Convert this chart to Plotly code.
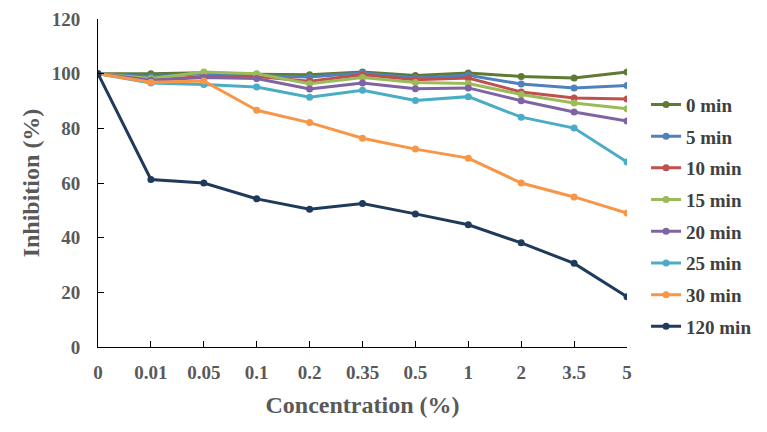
import plotly.graph_objects as go

concentrations = ["0", "0.01", "0.05", "0.1", "0.2", "0.35", "0.5", "1", "2", "3.5", "5"]

min0 = [100, 100, 100.3, 99.8, 99.6, 100.6, 99.3, 100.2, 99.0, 98.4, 100.6]
min5 = [100, 99.0, 100.0, 99.2, 98.8, 100.2, 98.4, 99.4, 96.2, 94.8, 95.7]
min10 = [100, 97.6, 99.0, 99.0, 97.2, 99.6, 97.8, 98.4, 93.3, 91.1, 90.7]
min15 = [100, 98.2, 100.6, 100.0, 96.3, 98.6, 96.8, 96.4, 92.4, 89.3, 87.2]
min20 = [100, 97.6, 98.6, 98.2, 94.4, 96.6, 94.5, 94.8, 90.1, 86.0, 82.7]
min25 = [100, 96.6, 96.0, 95.1, 91.4, 93.9, 90.2, 91.6, 84.1, 80.1, 67.7]
min30 = [100, 96.9, 97.3, 86.6, 82.1, 76.4, 72.4, 69.1, 60.0, 54.9, 49.0]
min120 = [100, 61.3, 60.0, 54.2, 50.4, 52.5, 48.7, 44.7, 38.1, 30.6, 18.4]

series_names = ["0 min", "5 min", "10 min", "15 min", "20 min", "25 min", "30 min", "120 min"]
series_values = [min0, min5, min10, min15, min20, min25, min30, min120]
colors = ["#5F7A33", "#4F81BD", "#C0504D", "#9BBB59", "#8064A2", "#4BACC6", "#F79646", "#203A5C"]

y_ticks = [0, 20, 40, 60, 80, 100, 120]

FONT = "Liberation Serif, Times New Roman, serif"

fig = go.Figure()
for name, vals, col in zip(series_names, series_values, colors):
    fig.add_trace(go.Scatter(
        x=concentrations, y=vals, name=name, mode="lines+markers",
        line=dict(color=col, width=3),
        marker=dict(color=col, size=7),
        legendgroup=name,
    ))

fig.update_layout(
    width=767, height=432,
    margin=dict(l=90, r=148, t=11, b=93),
    paper_bgcolor="white", plot_bgcolor="white",
    font=dict(family=FONT, color="#595959"),
    showlegend=True,
    legend=dict(
        x=1.036, xanchor="left", y=0.797, yanchor="top",
        font=dict(family=FONT, size=19, color="#404040", weight="bold"),
        tracegroupgap=4,
        traceorder="grouped",
        itemwidth=30,
        bgcolor="rgba(0,0,0,0)",
    ),
    xaxis=dict(
        type="category",
        categoryorder="array", categoryarray=concentrations,
        range=[0, 10],
        automargin=False,
        showline=True, linecolor="black", linewidth=1,
        ticks="inside", ticklen=6, tickcolor="black",
        showgrid=False, zeroline=False,
        tickfont=dict(family=FONT, size=19, color="#595959", weight="bold"),
        ticklabelstandoff=8,
        title=dict(text="Concentration (%)", standoff=14,
                   font=dict(family=FONT, size=24, color="#595959", weight="bold")),
    ),
    yaxis=dict(
        range=[0, 120],
        tickvals=y_ticks,
        automargin=False,
        showline=True, linecolor="black", linewidth=1,
        ticks="inside", ticklen=6, tickcolor="black",
        showgrid=False, zeroline=False,
        tickfont=dict(family=FONT, size=19, color="#595959", weight="bold"),
        ticklabelstandoff=13,
        title=dict(text="Inhibition (%)", standoff=5,
                   font=dict(family=FONT, size=24, color="#595959", weight="bold")),
    ),
)

fig.write_html("out.html")
